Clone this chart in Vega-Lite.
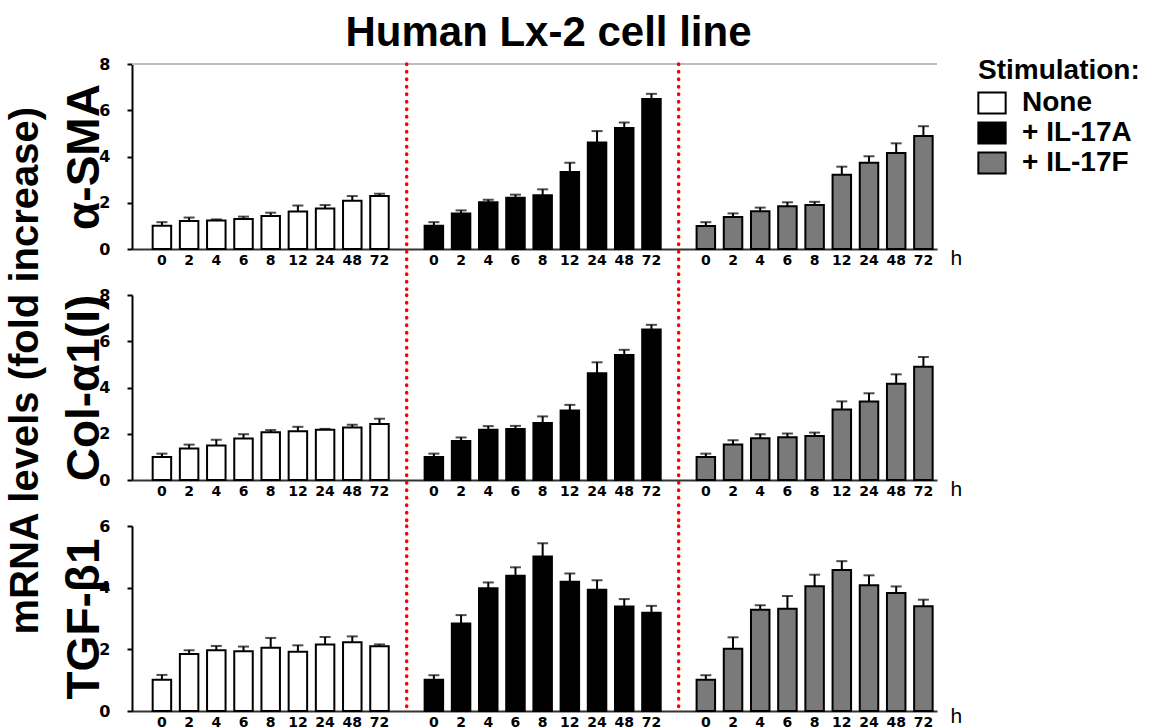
{
  "$schema": "https://vega.github.io/schema/vega-lite/v6.json",
  "padding": {"left": 5, "top": 12, "right": 2, "bottom": 0},
  "bounds": "flush",
  "spacing": 46,
  "title": {"text": "mRNA levels (fold increase)", "orient": "left", "fontSize": 40, "fontWeight": "bold", "font": "Liberation Sans", "color": "black", "anchor": "middle", "offset": 16},
  "config": {
    "font": "Liberation Sans",
    "view": {"stroke": null},
    "axis": {"domainColor": "black", "domainWidth": 2, "tickColor": "black", "tickWidth": 2, "labelColor": "black", "titleColor": "black", "grid": false},
    "axisY": {"labelFont": "DejaVu Sans", "labelFontWeight": "bold", "labelFontSize": 16, "tickSize": 5, "labelPadding": 17, "titleFontSize": 46, "titleFontWeight": "bold", "titlePadding": -10, "titleFont": "Liberation Sans"},
    "axisX": {"labels": false, "ticks": false, "domainColor": "#333333", "titleFontSize": 21, "titleFontWeight": "normal", "titleAngle": 0, "titleAlign": "left", "titleBaseline": "alphabetic", "titleX": 818, "titleY": 15}
  },
  "datasets": {
    "expr": [
      {"gene": "α-SMA", "stim": "None", "hour": 0, "mean": 1.01, "upper": 1.16},
      {"gene": "α-SMA", "stim": "None", "hour": 2, "mean": 1.21, "upper": 1.36},
      {"gene": "α-SMA", "stim": "None", "hour": 4, "mean": 1.23, "upper": 1.28},
      {"gene": "α-SMA", "stim": "None", "hour": 6, "mean": 1.30, "upper": 1.40},
      {"gene": "α-SMA", "stim": "None", "hour": 8, "mean": 1.43, "upper": 1.57},
      {"gene": "α-SMA", "stim": "None", "hour": 12, "mean": 1.62, "upper": 1.88},
      {"gene": "α-SMA", "stim": "None", "hour": 24, "mean": 1.75, "upper": 1.90},
      {"gene": "α-SMA", "stim": "None", "hour": 48, "mean": 2.09, "upper": 2.29},
      {"gene": "α-SMA", "stim": "None", "hour": 72, "mean": 2.29, "upper": 2.39},
      {"gene": "α-SMA", "stim": "+ IL-17A", "hour": 0, "mean": 1.01, "upper": 1.16},
      {"gene": "α-SMA", "stim": "+ IL-17A", "hour": 2, "mean": 1.53, "upper": 1.67},
      {"gene": "α-SMA", "stim": "+ IL-17A", "hour": 4, "mean": 2.02, "upper": 2.13},
      {"gene": "α-SMA", "stim": "+ IL-17A", "hour": 6, "mean": 2.22, "upper": 2.35},
      {"gene": "α-SMA", "stim": "+ IL-17A", "hour": 8, "mean": 2.32, "upper": 2.58},
      {"gene": "α-SMA", "stim": "+ IL-17A", "hour": 12, "mean": 3.33, "upper": 3.73},
      {"gene": "α-SMA", "stim": "+ IL-17A", "hour": 24, "mean": 4.61, "upper": 5.10},
      {"gene": "α-SMA", "stim": "+ IL-17A", "hour": 48, "mean": 5.23, "upper": 5.47},
      {"gene": "α-SMA", "stim": "+ IL-17A", "hour": 72, "mean": 6.49, "upper": 6.71},
      {"gene": "α-SMA", "stim": "+ IL-17F", "hour": 0, "mean": 0.99, "upper": 1.16},
      {"gene": "α-SMA", "stim": "+ IL-17F", "hour": 2, "mean": 1.38, "upper": 1.54},
      {"gene": "α-SMA", "stim": "+ IL-17F", "hour": 4, "mean": 1.63, "upper": 1.79},
      {"gene": "α-SMA", "stim": "+ IL-17F", "hour": 6, "mean": 1.85, "upper": 2.02},
      {"gene": "α-SMA", "stim": "+ IL-17F", "hour": 8, "mean": 1.90, "upper": 2.04},
      {"gene": "α-SMA", "stim": "+ IL-17F", "hour": 12, "mean": 3.21, "upper": 3.56},
      {"gene": "α-SMA", "stim": "+ IL-17F", "hour": 24, "mean": 3.73, "upper": 4.01},
      {"gene": "α-SMA", "stim": "+ IL-17F", "hour": 48, "mean": 4.15, "upper": 4.57},
      {"gene": "α-SMA", "stim": "+ IL-17F", "hour": 72, "mean": 4.89, "upper": 5.31},
      {"gene": "Col-α1(I)", "stim": "None", "hour": 0, "mean": 1.00, "upper": 1.14},
      {"gene": "Col-α1(I)", "stim": "None", "hour": 2, "mean": 1.36, "upper": 1.53},
      {"gene": "Col-α1(I)", "stim": "None", "hour": 4, "mean": 1.49, "upper": 1.74},
      {"gene": "Col-α1(I)", "stim": "None", "hour": 6, "mean": 1.80, "upper": 1.98},
      {"gene": "Col-α1(I)", "stim": "None", "hour": 8, "mean": 2.07, "upper": 2.16},
      {"gene": "Col-α1(I)", "stim": "None", "hour": 12, "mean": 2.11, "upper": 2.30},
      {"gene": "Col-α1(I)", "stim": "None", "hour": 24, "mean": 2.17, "upper": 2.21},
      {"gene": "Col-α1(I)", "stim": "None", "hour": 48, "mean": 2.27, "upper": 2.39},
      {"gene": "Col-α1(I)", "stim": "None", "hour": 72, "mean": 2.42, "upper": 2.65},
      {"gene": "Col-α1(I)", "stim": "+ IL-17A", "hour": 0, "mean": 1.00, "upper": 1.14},
      {"gene": "Col-α1(I)", "stim": "+ IL-17A", "hour": 2, "mean": 1.69, "upper": 1.84},
      {"gene": "Col-α1(I)", "stim": "+ IL-17A", "hour": 4, "mean": 2.17, "upper": 2.33},
      {"gene": "Col-α1(I)", "stim": "+ IL-17A", "hour": 6, "mean": 2.21, "upper": 2.34},
      {"gene": "Col-α1(I)", "stim": "+ IL-17A", "hour": 8, "mean": 2.47, "upper": 2.75},
      {"gene": "Col-α1(I)", "stim": "+ IL-17A", "hour": 12, "mean": 3.01, "upper": 3.25},
      {"gene": "Col-α1(I)", "stim": "+ IL-17A", "hour": 24, "mean": 4.62, "upper": 5.09},
      {"gene": "Col-α1(I)", "stim": "+ IL-17A", "hour": 48, "mean": 5.41, "upper": 5.63},
      {"gene": "Col-α1(I)", "stim": "+ IL-17A", "hour": 72, "mean": 6.51, "upper": 6.71},
      {"gene": "Col-α1(I)", "stim": "+ IL-17F", "hour": 0, "mean": 1.00, "upper": 1.14},
      {"gene": "Col-α1(I)", "stim": "+ IL-17F", "hour": 2, "mean": 1.54, "upper": 1.72},
      {"gene": "Col-α1(I)", "stim": "+ IL-17F", "hour": 4, "mean": 1.81, "upper": 1.98},
      {"gene": "Col-α1(I)", "stim": "+ IL-17F", "hour": 6, "mean": 1.85, "upper": 2.01},
      {"gene": "Col-α1(I)", "stim": "+ IL-17F", "hour": 8, "mean": 1.90, "upper": 2.05},
      {"gene": "Col-α1(I)", "stim": "+ IL-17F", "hour": 12, "mean": 3.05, "upper": 3.40},
      {"gene": "Col-α1(I)", "stim": "+ IL-17F", "hour": 24, "mean": 3.40, "upper": 3.75},
      {"gene": "Col-α1(I)", "stim": "+ IL-17F", "hour": 48, "mean": 4.16, "upper": 4.57},
      {"gene": "Col-α1(I)", "stim": "+ IL-17F", "hour": 72, "mean": 4.90, "upper": 5.32},
      {"gene": "TGF-β1", "stim": "None", "hour": 0, "mean": 1.01, "upper": 1.17},
      {"gene": "TGF-β1", "stim": "None", "hour": 2, "mean": 1.85, "upper": 1.97},
      {"gene": "TGF-β1", "stim": "None", "hour": 4, "mean": 1.97, "upper": 2.11},
      {"gene": "TGF-β1", "stim": "None", "hour": 6, "mean": 1.94, "upper": 2.09},
      {"gene": "TGF-β1", "stim": "None", "hour": 8, "mean": 2.05, "upper": 2.37},
      {"gene": "TGF-β1", "stim": "None", "hour": 12, "mean": 1.92, "upper": 2.13},
      {"gene": "TGF-β1", "stim": "None", "hour": 24, "mean": 2.16, "upper": 2.40},
      {"gene": "TGF-β1", "stim": "None", "hour": 48, "mean": 2.23, "upper": 2.42},
      {"gene": "TGF-β1", "stim": "None", "hour": 72, "mean": 2.10, "upper": 2.16},
      {"gene": "TGF-β1", "stim": "+ IL-17A", "hour": 0, "mean": 1.01, "upper": 1.16},
      {"gene": "TGF-β1", "stim": "+ IL-17A", "hour": 2, "mean": 2.84, "upper": 3.11},
      {"gene": "TGF-β1", "stim": "+ IL-17A", "hour": 4, "mean": 3.98, "upper": 4.17},
      {"gene": "TGF-β1", "stim": "+ IL-17A", "hour": 6, "mean": 4.39, "upper": 4.66},
      {"gene": "TGF-β1", "stim": "+ IL-17A", "hour": 8, "mean": 5.01, "upper": 5.44},
      {"gene": "TGF-β1", "stim": "+ IL-17A", "hour": 12, "mean": 4.19, "upper": 4.46},
      {"gene": "TGF-β1", "stim": "+ IL-17A", "hour": 24, "mean": 3.93, "upper": 4.24},
      {"gene": "TGF-β1", "stim": "+ IL-17A", "hour": 48, "mean": 3.39, "upper": 3.63},
      {"gene": "TGF-β1", "stim": "+ IL-17A", "hour": 72, "mean": 3.19, "upper": 3.41},
      {"gene": "TGF-β1", "stim": "+ IL-17F", "hour": 0, "mean": 1.01, "upper": 1.16},
      {"gene": "TGF-β1", "stim": "+ IL-17F", "hour": 2, "mean": 2.02, "upper": 2.39},
      {"gene": "TGF-β1", "stim": "+ IL-17F", "hour": 4, "mean": 3.28, "upper": 3.43},
      {"gene": "TGF-β1", "stim": "+ IL-17F", "hour": 6, "mean": 3.32, "upper": 3.73},
      {"gene": "TGF-β1", "stim": "+ IL-17F", "hour": 8, "mean": 4.05, "upper": 4.42},
      {"gene": "TGF-β1", "stim": "+ IL-17F", "hour": 12, "mean": 4.57, "upper": 4.86},
      {"gene": "TGF-β1", "stim": "+ IL-17F", "hour": 24, "mean": 4.08, "upper": 4.40},
      {"gene": "TGF-β1", "stim": "+ IL-17F", "hour": 48, "mean": 3.83, "upper": 4.04},
      {"gene": "TGF-β1", "stim": "+ IL-17F", "hour": 72, "mean": 3.40, "upper": 3.61}
    ],
    "separators": [{"stim": "+ IL-17A"}, {"stim": "+ IL-17F"}],
    "frame": [{"edge": "top"}]
  },
  "vconcat": [
    {
      "width": 805, "height": 185,
      "title": {"text": "Human Lx-2 cell line", "fontSize": 42, "fontWeight": "bold", "color": "black", "anchor": "middle", "baseline": "alphabetic", "offset": -32, "dx": 14},
      "layer": [
        {"data": {"name": "frame"}, "mark": {"type": "rule", "color": "#bdbdbd", "strokeWidth": 2}, "encoding": {"y": {"datum": 8, "type": "quantitative", "scale": {"domain": [0, 8]}}}},
        {"data": {"name": "expr"}, "transform": [{"filter": "datum.gene === 'α-SMA'"}],
         "mark": {"type": "bar", "stroke": "black", "strokeWidth": 2},
         "encoding": {
           "x": {"field": "stim", "type": "nominal", "sort": ["None", "+ IL-17A", "+ IL-17F"], "scale": {"domain": ["None", "+ IL-17A", "+ IL-17F"], "paddingInner": 0.1, "paddingOuter": 0.03, "align": 1}, "axis": {"title": "h"}},
           "xOffset": {"field": "hour", "type": "ordinal", "scale": {"paddingInner": 0.32, "paddingOuter": 0.16}},
           "y": {"field": "mean", "type": "quantitative", "scale": {"domain": [0, 8]}, "axis": {"values": [0, 2, 4, 6, 8], "title": "α-SMA"}},
           "fill": {"field": "stim", "type": "nominal", "scale": {"domain": ["None", "+ IL-17A", "+ IL-17F"], "range": ["#ffffff", "#000000", "#7a7a7a"]},
             "legend": {"title": "Stimulation:", "orient": "none", "legendX": 846, "legendY": -7, "padding": 0, "titleFontSize": 28, "titleFontWeight": "bold", "titleColor": "black", "titlePadding": 4, "labelFontSize": 28, "labelFontWeight": "bold", "labelColor": "black", "labelOffset": 16, "symbolType": "M-1.3,-1L1.3,-1L1.3,1L-1.3,1Z", "symbolSize": 441, "symbolStrokeColor": "black", "symbolStrokeWidth": 2, "rowPadding": 0}}
         }},
        {"data": {"name": "expr"}, "transform": [{"filter": "datum.gene === 'α-SMA'"}],
         "mark": {"type": "rule", "color": "black", "strokeWidth": 2},
         "encoding": {"x": {"field": "stim", "type": "nominal"}, "xOffset": {"field": "hour", "type": "ordinal"}, "y": {"field": "mean", "type": "quantitative"}, "y2": {"field": "upper"}}},
        {"data": {"name": "expr"}, "transform": [{"filter": "datum.gene === 'α-SMA'"}],
         "mark": {"type": "tick", "color": "black", "thickness": 2, "size": 11},
         "encoding": {"x": {"field": "stim", "type": "nominal"}, "xOffset": {"field": "hour", "type": "ordinal"}, "y": {"field": "upper", "type": "quantitative"}}},
        {"data": {"name": "expr"}, "transform": [{"filter": "datum.gene === 'α-SMA'"}],
         "mark": {"type": "text", "font": "DejaVu Sans", "fontWeight": "bold", "fontSize": 14, "baseline": "middle", "dy": 11.5, "color": "black"},
         "encoding": {"x": {"field": "stim", "type": "nominal"}, "xOffset": {"field": "hour", "type": "ordinal"}, "y": {"datum": 0, "type": "quantitative"}, "text": {"field": "hour", "type": "ordinal"}}},
        {"data": {"name": "separators"},
         "mark": {"type": "rule", "color": "#ff0000", "strokeWidth": 3.5, "strokeDash": [0.5, 7], "strokeCap": "round", "xOffset": -13.6},
         "encoding": {"x": {"field": "stim", "type": "nominal", "bandPosition": 0}, "y": {"datum": 8, "type": "quantitative"}, "y2": {"datum": -2}}}
      ]
    },
    {
      "width": 805, "height": 185,
      "layer": [
        {"data": {"name": "expr"}, "transform": [{"filter": "datum.gene === 'Col-α1(I)'"}],
         "mark": {"type": "bar", "stroke": "black", "strokeWidth": 2},
         "encoding": {
           "x": {"field": "stim", "type": "nominal", "sort": ["None", "+ IL-17A", "+ IL-17F"], "scale": {"domain": ["None", "+ IL-17A", "+ IL-17F"], "paddingInner": 0.1, "paddingOuter": 0.03, "align": 1}, "axis": {"title": "h"}},
           "xOffset": {"field": "hour", "type": "ordinal", "scale": {"paddingInner": 0.32, "paddingOuter": 0.16}},
           "y": {"field": "mean", "type": "quantitative", "scale": {"domain": [0, 8]}, "axis": {"values": [0, 2, 4, 6, 8], "title": "Col-α1(I)"}},
           "fill": {"field": "stim", "type": "nominal"}
         }},
        {"data": {"name": "expr"}, "transform": [{"filter": "datum.gene === 'Col-α1(I)'"}],
         "mark": {"type": "rule", "color": "black", "strokeWidth": 2},
         "encoding": {"x": {"field": "stim", "type": "nominal"}, "xOffset": {"field": "hour", "type": "ordinal"}, "y": {"field": "mean", "type": "quantitative"}, "y2": {"field": "upper"}}},
        {"data": {"name": "expr"}, "transform": [{"filter": "datum.gene === 'Col-α1(I)'"}],
         "mark": {"type": "tick", "color": "black", "thickness": 2, "size": 11},
         "encoding": {"x": {"field": "stim", "type": "nominal"}, "xOffset": {"field": "hour", "type": "ordinal"}, "y": {"field": "upper", "type": "quantitative"}}},
        {"data": {"name": "expr"}, "transform": [{"filter": "datum.gene === 'Col-α1(I)'"}],
         "mark": {"type": "text", "font": "DejaVu Sans", "fontWeight": "bold", "fontSize": 14, "baseline": "middle", "dy": 11.5, "color": "black"},
         "encoding": {"x": {"field": "stim", "type": "nominal"}, "xOffset": {"field": "hour", "type": "ordinal"}, "y": {"datum": 0, "type": "quantitative"}, "text": {"field": "hour", "type": "ordinal"}}},
        {"data": {"name": "separators"},
         "mark": {"type": "rule", "color": "#ff0000", "strokeWidth": 3.5, "strokeDash": [0.5, 7], "strokeCap": "round", "xOffset": -13.6},
         "encoding": {"x": {"field": "stim", "type": "nominal", "bandPosition": 0}, "y": {"datum": 8, "type": "quantitative"}, "y2": {"datum": -2}}}
      ]
    },
    {
      "width": 805, "height": 185,
      "layer": [
        {"data": {"name": "expr"}, "transform": [{"filter": "datum.gene === 'TGF-β1'"}],
         "mark": {"type": "bar", "stroke": "black", "strokeWidth": 2},
         "encoding": {
           "x": {"field": "stim", "type": "nominal", "sort": ["None", "+ IL-17A", "+ IL-17F"], "scale": {"domain": ["None", "+ IL-17A", "+ IL-17F"], "paddingInner": 0.1, "paddingOuter": 0.03, "align": 1}, "axis": {"title": "h", "titleY": 11}},
           "xOffset": {"field": "hour", "type": "ordinal", "scale": {"paddingInner": 0.32, "paddingOuter": 0.16}},
           "y": {"field": "mean", "type": "quantitative", "scale": {"domain": [0, 6]}, "axis": {"values": [0, 2, 4, 6], "title": "TGF-β1"}},
           "fill": {"field": "stim", "type": "nominal"}
         }},
        {"data": {"name": "expr"}, "transform": [{"filter": "datum.gene === 'TGF-β1'"}],
         "mark": {"type": "rule", "color": "black", "strokeWidth": 2},
         "encoding": {"x": {"field": "stim", "type": "nominal"}, "xOffset": {"field": "hour", "type": "ordinal"}, "y": {"field": "mean", "type": "quantitative"}, "y2": {"field": "upper"}}},
        {"data": {"name": "expr"}, "transform": [{"filter": "datum.gene === 'TGF-β1'"}],
         "mark": {"type": "tick", "color": "black", "thickness": 2, "size": 11},
         "encoding": {"x": {"field": "stim", "type": "nominal"}, "xOffset": {"field": "hour", "type": "ordinal"}, "y": {"field": "upper", "type": "quantitative"}}},
        {"data": {"name": "expr"}, "transform": [{"filter": "datum.gene === 'TGF-β1'"}],
         "mark": {"type": "text", "font": "DejaVu Sans", "fontWeight": "bold", "fontSize": 14, "baseline": "middle", "dy": 11.5, "color": "black"},
         "encoding": {"x": {"field": "stim", "type": "nominal"}, "xOffset": {"field": "hour", "type": "ordinal"}, "y": {"datum": 0, "type": "quantitative"}, "text": {"field": "hour", "type": "ordinal"}}},
        {"data": {"name": "separators"},
         "mark": {"type": "rule", "color": "#ff0000", "strokeWidth": 3.5, "strokeDash": [0.5, 7], "strokeCap": "round", "xOffset": -13.6},
         "encoding": {"x": {"field": "stim", "type": "nominal", "bandPosition": 0}, "y": {"datum": 6, "type": "quantitative"}, "y2": {"datum": 0.12}}}
      ]
    }
  ]
}
